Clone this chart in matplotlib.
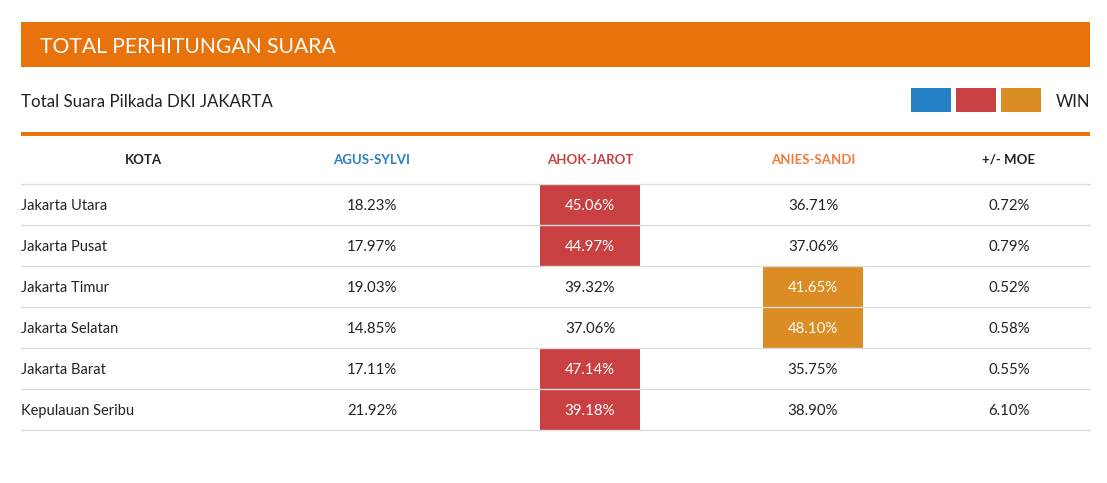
import matplotlib
matplotlib.use("Agg")
import matplotlib.pyplot as plt
from matplotlib.patches import Rectangle

plt.rcParams["font.family"] = ["Lato", "DejaVu Sans"]

title = "TOTAL PERHITUNGAN SUARA"
subtitle = "Total Suara Pilkada DKI JAKARTA"
columns = ["KOTA", "AGUS-SYLVI", "AHOK-JAROT", "ANIES-SANDI", "+/- MOE"]
cities = ["Jakarta Utara", "Jakarta Pusat", "Jakarta Timur",
          "Jakarta Selatan", "Jakarta Barat", "Kepulauan Seribu"]
agus = [18.23, 17.97, 19.03, 14.85, 17.11, 21.92]
ahok = [45.06, 44.97, 39.32, 37.06, 47.14, 39.18]
anies = [36.71, 37.06, 41.65, 48.10, 35.75, 38.90]
moe = [0.72, 0.79, 0.52, 0.58, 0.55, 6.10]

BLUE, RED, GOLD = "#2580C3", "#C94043", "#DB8C22"
ORANGE = "#E8730C"
head_colors = ["#222222", "#2A7FC1", "#C9403F", "#F07B3A", "#222222"]
col_x = [143, 372, 590, 813, 1009]   # column centres in px
L, R = 21, 1090
row_h = 41
top = 184
dy = 1.8  # nudge text down a bit (Lato's box sits high)

fig = plt.figure(figsize=(11.07, 4.83), dpi=100)
ax = fig.add_axes([0, 0, 1, 1])
ax.set_xlim(0, 1107); ax.set_ylim(483, 0); ax.axis("off")

# banner
ax.add_patch(Rectangle((L, 22), R - L, 45, color=ORANGE, lw=0))
ax.text(40, 45.5 + dy, title, color="white", fontsize=15.2, va="center", ha="left")
ax.text(L, 100 + dy, subtitle, color="#222222", fontsize=12.2, va="center", ha="left")

# legend swatches
for i, c in enumerate([BLUE, RED, GOLD]):
    ax.add_patch(Rectangle((911 + 45 * i, 88), 40, 24, color=c, lw=0))
ax.text(R, 100 + dy, "WIN", color="#222222", fontsize=12, va="center", ha="right")

ax.add_patch(Rectangle((L, 132), R - L, 4, color=ORANGE, lw=0))

# header
for j, (name, c) in enumerate(zip(columns, head_colors)):
    ax.text(col_x[j], 158 + dy, name, color=c, fontsize=9.5, fontweight="bold",
            va="center", ha="center")
ax.plot([L, R], [top, top], color="#dddddd", lw=1)

for i, city in enumerate(cities):
    y0 = top + i * row_h
    yc = y0 + row_h / 2 + dy
    win = 2 if ahok[i] > anies[i] else 3
    wcol = RED if win == 2 else GOLD
    ax.add_patch(Rectangle((col_x[win] - 50, y0 + 1), 100, row_h - 1, color=wcol, lw=0))
    ax.text(L, yc, city, color="#222222", fontsize=10.5, va="center", ha="left")
    vals = [agus[i], ahok[i], anies[i], moe[i]]
    for j, v in enumerate(vals, start=1):
        ax.text(col_x[j], yc, f"{v:.2f}%", fontsize=10.8, va="center", ha="center",
                color="white" if j == win else "#222222")
    ax.plot([L, R], [y0 + row_h, y0 + row_h], color="#dddddd", lw=1)

fig.savefig("out.png", dpi=100, facecolor="white")
